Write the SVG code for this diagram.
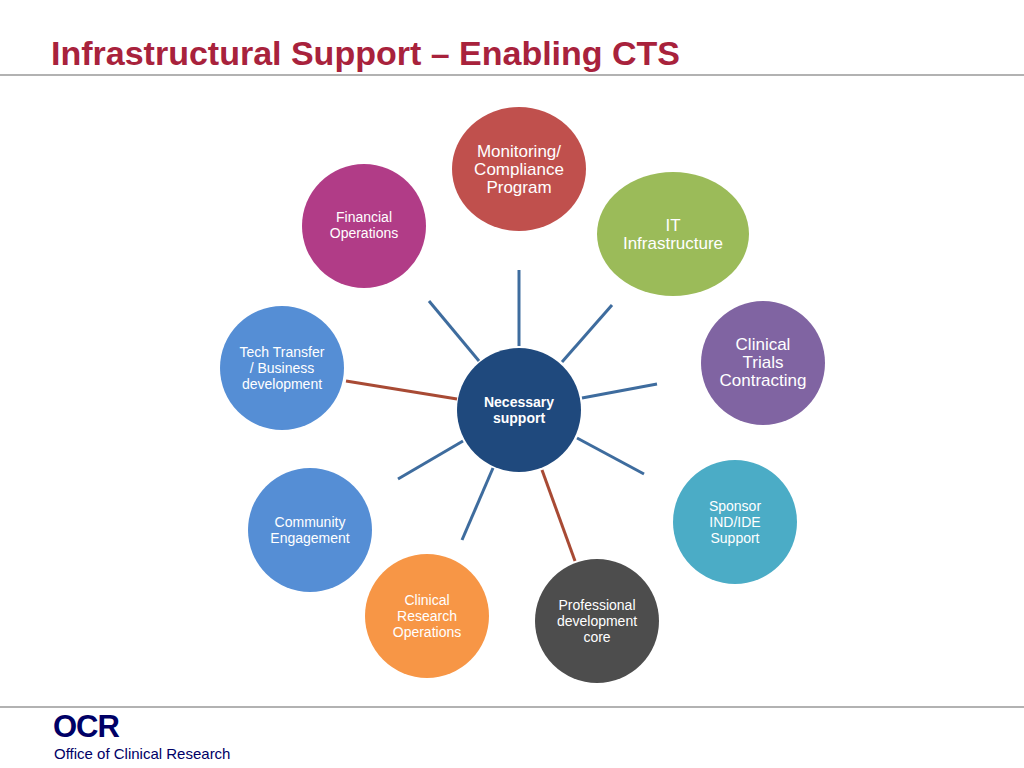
<svg xmlns="http://www.w3.org/2000/svg" width="1024" height="768" viewBox="0 0 1024 768">
<style>
text{font-family:"Liberation Sans",Arial,sans-serif;fill:#fff;text-anchor:middle}
.s{font-size:14px}.m{font-size:17px}
.b{stroke:#3e6c9e;stroke-width:3}.r{stroke:#a84a34;stroke-width:3}
</style>
<rect width="1024" height="768" fill="#fff"/>
<text x="51" y="65" style="font-size:34px;font-weight:bold;fill:#a8223c;text-anchor:start">Infrastructural Support – Enabling CTS</text>
<line x1="0" y1="75" x2="1024" y2="75" stroke="#999" stroke-width="1.5"/>
<line x1="0" y1="707" x2="1024" y2="707" stroke="#999" stroke-width="1.5"/>
<g id="connectors">
<line class="b" x1="519" y1="270" x2="519" y2="346"/>
<line class="b" x1="612" y1="305" x2="562" y2="362"/>
<line class="b" x1="657" y1="384" x2="582" y2="398"/>
<line class="b" x1="644" y1="474" x2="577" y2="438"/>
<line class="r" x1="575" y1="561" x2="542" y2="470"/>
<line class="b" x1="493" y1="468" x2="462" y2="540"/>
<line class="b" x1="463" y1="441" x2="398" y2="479"/>
<line class="r" x1="346" y1="381" x2="457" y2="399"/>
<line class="b" x1="429" y1="301" x2="479" y2="361"/>
</g>
<g id="center"><circle cx="519" cy="410" r="62" fill="#1f497d"/><text x="519" y="407" class="s" font-weight="bold">Necessary</text><text x="519" y="423" class="s" font-weight="bold">support</text></g>
<g id="monitoring"><ellipse cx="519" cy="169" rx="67" ry="62" fill="#c0504d"/><text x="519" y="157" class="m">Monitoring/</text><text x="519" y="175" class="m">Compliance</text><text x="519" y="193" class="m">Program</text></g>
<g id="it"><ellipse cx="673" cy="234" rx="76" ry="62" fill="#9bbb59"/><text x="673" y="231" class="m">IT</text><text x="673" y="249" class="m">Infrastructure</text></g>
<g id="contracting"><circle cx="763" cy="363" r="62" fill="#8064a2"/><text x="763" y="350" class="m">Clinical</text><text x="763" y="368" class="m">Trials</text><text x="763" y="386" class="m">Contracting</text></g>
<g id="sponsor"><circle cx="735" cy="522" r="62" fill="#4bacc6"/><text x="735" y="511" class="s">Sponsor</text><text x="735" y="527" class="s">IND/IDE</text><text x="735" y="543" class="s">Support</text></g>
<g id="professional"><circle cx="597" cy="621" r="62" fill="#4d4d4d"/><text x="597" y="610" class="s">Professional</text><text x="597" y="626" class="s">development</text><text x="597" y="642" class="s">core</text></g>
<g id="clinicalresearch"><circle cx="427" cy="616" r="62" fill="#f79646"/><text x="427" y="605" class="s">Clinical</text><text x="427" y="621" class="s">Research</text><text x="427" y="637" class="s">Operations</text></g>
<g id="community"><circle cx="310" cy="530" r="62" fill="#558ed5"/><text x="310" y="527" class="s">Community</text><text x="310" y="543" class="s">Engagement</text></g>
<g id="tech"><circle cx="282" cy="368" r="62" fill="#558ed5"/><text x="282" y="357" class="s">Tech Transfer</text><text x="282" y="373" class="s">/ Business</text><text x="282" y="389" class="s">development</text></g>
<g id="financial"><circle cx="364" cy="226" r="62" fill="#b13c87"/><text x="364" y="222" class="s">Financial</text><text x="364" y="238" class="s">Operations</text></g>
<text x="53" y="737" style="font-size:31px;font-weight:bold;fill:#000066;text-anchor:start;letter-spacing:-1px">OCR</text>
<text x="54" y="759" style="font-size:15px;fill:#000066;text-anchor:start">Office of Clinical Research</text>
</svg>
